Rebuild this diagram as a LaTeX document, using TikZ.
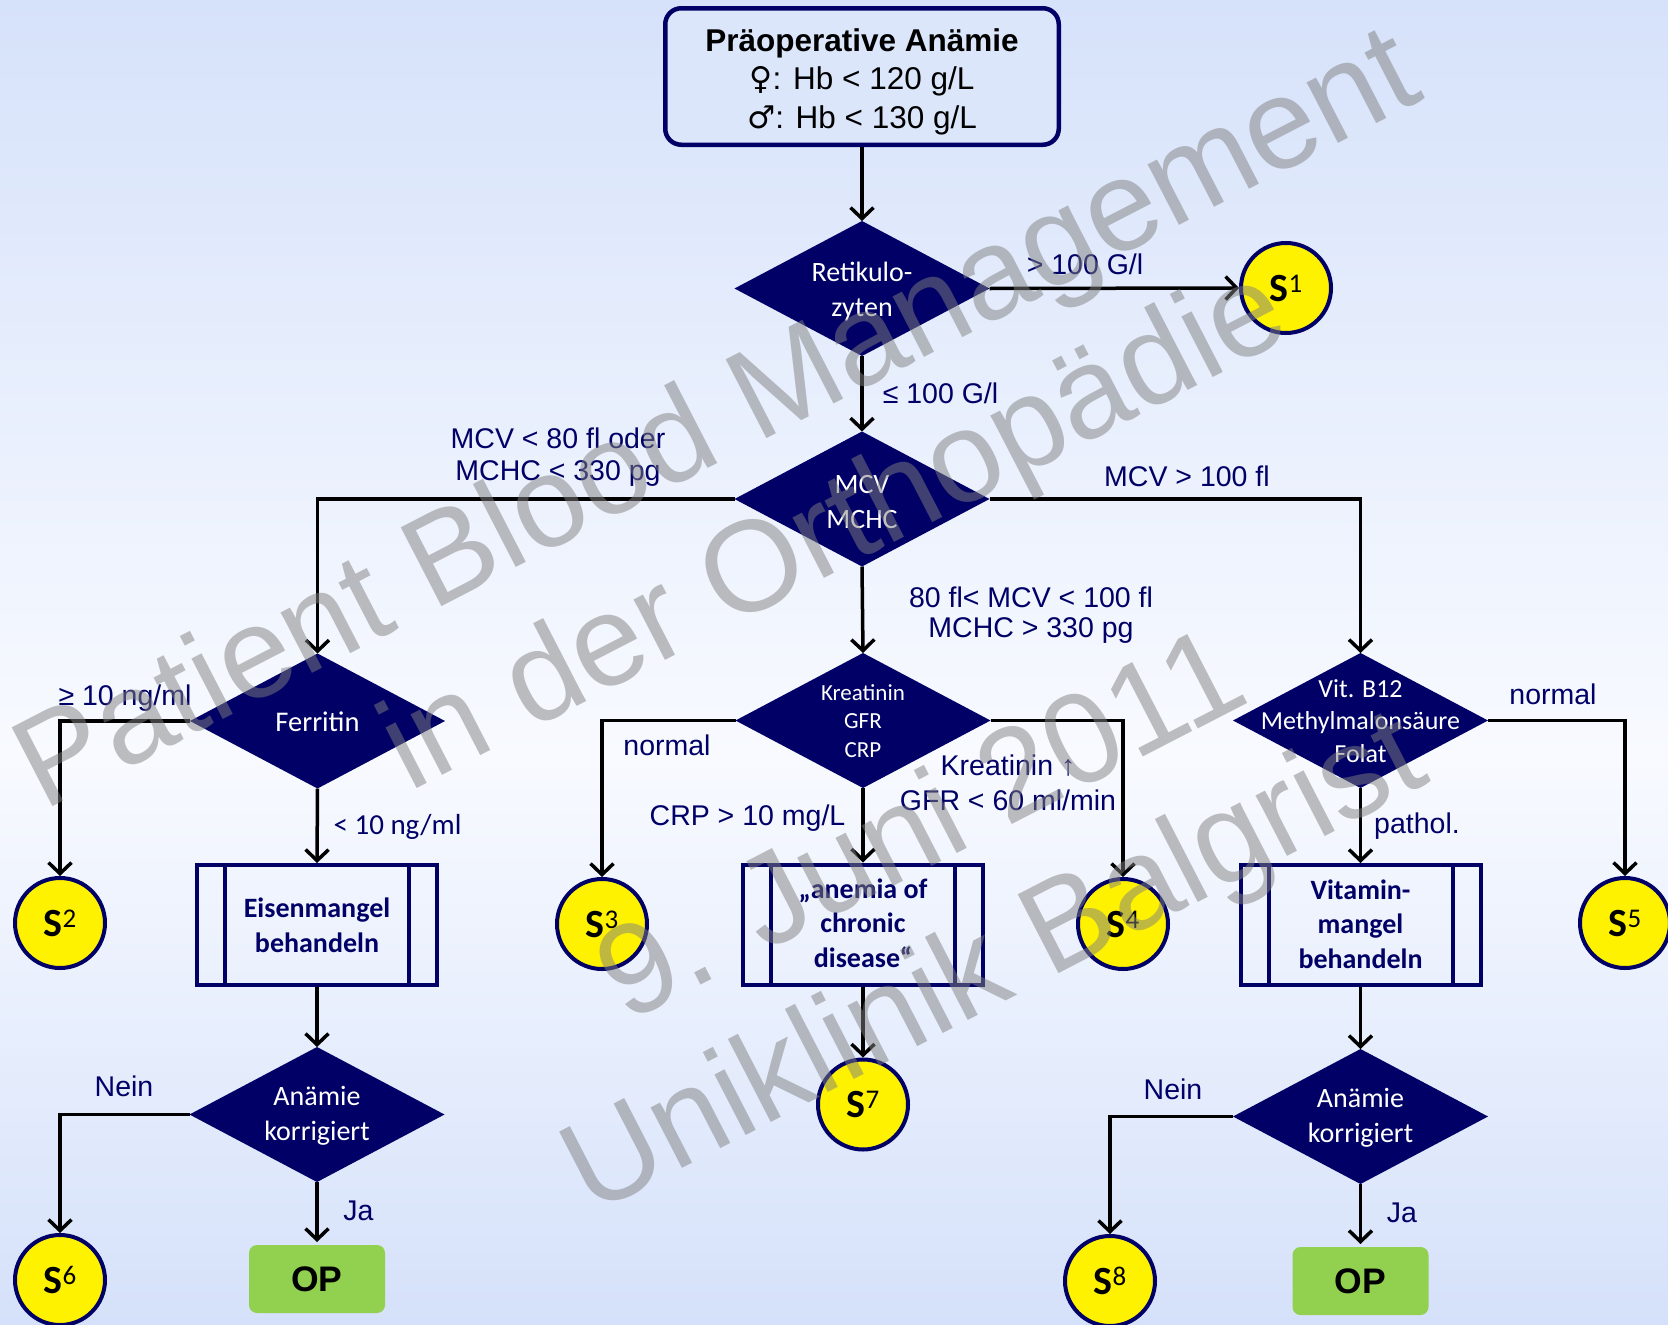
\documentclass[tikz,border=0pt]{standalone}
\usepackage{fontspec}
\setmainfont{Liberation Sans}
\newfontfamily\carl{Carlito}
\newfontfamily\dvs{DejaVu Sans}
\usetikzlibrary{shapes.geometric,arrows.meta}
\definecolor{dnavy}{HTML}{000066}
\definecolor{bgtop}{HTML}{D6E2FA}
\definecolor{bgmid}{HTML}{F8FAFF}
\definecolor{bgbot}{HTML}{D5E1FA}
\definecolor{titlefill}{HTML}{DCE6FA}
\definecolor{opgreen}{HTML}{92D050}
\pgfdeclareverticalshading{bgsh}{100bp}{color(0bp)=(bgbot); color(25bp)=(bgbot); color(46.5bp)=(bgmid); color(75bp)=(bgtop); color(100bp)=(bgtop)}
\newcommand\ml[1]{\begin{tabular}[b]{@{}c@{}}#1\end{tabular}}
\newcommand\fs[2]{\fontsize{#1}{#2}\selectfont}
\newcommand\sS[1]{{\carl\bfseries\fs{40}{40}S}{\carl\fs{27}{27}\raisebox{9pt}{#1}}}
\tikzset{
 arr/.style={line width=3.5pt, draw=black, -{Straight Barb[length=11pt,width=23pt]}},
 dia/.style={diamond, fill=dnavy, minimum width=255pt, minimum height=135pt, inner sep=0pt, outer sep=0pt},
 dtxt/.style={text=white, anchor=base, inner sep=0pt},
 lbl/.style={text=dnavy, anchor=base, inner sep=0pt, font=\fs{28.5}{32}},
 sbox/.style={draw=dnavy, line width=4pt, minimum width=240pt, minimum height=120pt, inner sep=0pt, outer sep=2pt},
 btxt/.style={text=dnavy, anchor=base, inner sep=0pt, font=\carl\bfseries\fs{28}{34.5}},
 snode/.style={circle, draw=dnavy, line width=4pt, fill=yellow, minimum size=90pt, inner sep=0pt, outer sep=2pt},
 opbox/.style={fill=opgreen, rounded corners=8pt, minimum width=136pt, minimum height=68pt, inner sep=0pt, outer sep=3pt, font=\bfseries\fs{35.5}{36}},
 titlebox/.style={draw=dnavy, line width=4.5pt, fill=titlefill, rounded corners=16pt, minimum width=393.5pt, minimum height=136.5pt, outer sep=2.25pt},
 wm/.style={text=black!50, opacity=0.5, anchor=base, rotate=27.3, inner sep=0pt, font=\fs{129}{130}},
 inner/.style={draw=dnavy, line width=4pt}
}
\begin{document}
\begin{tikzpicture}[x=1pt,y=-1pt]
\useasboundingbox (0,0) rectangle (1668,1325);
\shade[shading=bgsh] (0,0) rectangle (1668,1325);

% shapes
\node[titlebox] (title) at (862,76.5) {};
\node[dia] (ret) at (862,288.5) {};
\node[dia] (mcv) at (862,499) {};
\node[dia] (fer) at (317.5,721) {};
\node[dia] (kre) at (863,720.5) {};
\node[dia] (vit) at (1360.5,720.5) {};
\node[dia] (an1) at (317,1114.5) {};
\node[dia] (an2) at (1360.5,1116.5) {};
\node[sbox] (eis) at (317,925) {};
\node[sbox] (acd) at (863,924.5) {};
\node[sbox] (vbx) at (1360.5,925) {};
\foreach \b in {eis,acd,vbx} {
 \draw[inner] ([xshift=30pt]\b.north west) -- ([xshift=30pt]\b.south west);
 \draw[inner] ([xshift=-30pt]\b.north east) -- ([xshift=-30pt]\b.south east);
}
\node[snode] (s1) at (1286,288) {\sS{1}};
\node[snode] (s2) at (60,923) {\sS{2}};
\node[snode] (s3) at (602,924) {\sS{3}};
\node[snode] (s4) at (1123,924) {\sS{4}};
\node[snode] (s5) at (1625,923) {\sS{5}};
\node[snode] (s6) at (60,1280) {\sS{6}};
\node[snode] (s7) at (863,1104.5) {\sS{7}};
\node[snode] (s8) at (1110,1281) {\sS{8}};
\node[opbox] (op1) at (317,1279) {OP};
\node[opbox] (op2) at (1360.5,1281) {OP};

% connectors
\draw[arr] (title.south) -- (ret.north);
\draw[arr] (ret.east) -- (s1.west);
\draw[arr] (ret.south) -- (mcv.north);
\draw[arr] (mcv.west) -| (fer.north);
\draw[arr] (mcv.east) -| (vit.north);
\draw[arr] (mcv.south) -- (kre.north);
\draw[arr] (fer.west) -| (s2.north);
\draw[arr] (fer.south) -- (eis.north);
\draw[arr] (eis.south) -- (an1.north);
\draw[arr] (an1.west) -| (s6.north);
\draw[arr] (an1.south) -- (op1.north);
\draw[arr] (kre.west) -| (s3.north);
\draw[arr] (kre.east) -| (s4.north);
\draw[arr] (kre.south) -- (acd.north);
\draw[arr] (acd.south) -- (s7.north);
\draw[arr] (vit.east) -| (s5.north);
\draw[arr] (vit.south) -- (vbx.north);
\draw[arr] (vbx.south) -- (an2.north);
\draw[arr] (an2.west) -| (s8.north);
\draw[arr] (an2.south) -- (op2.north);

% title text
\node[anchor=base, inner sep=0pt, font=\fs{31.5}{38.5}] (titlet) at (862,128)
 {\ml{\textbf{Präoperative Anämie}\\{\dvs ♀}: Hb < 120 g/L\\{\dvs ♂}: Hb < 130 g/L}};

% diamond texts
\node[dtxt, font=\carl\fs{28}{35}] (rett) at (862,316) {\ml{Retikulo-\\zyten}};
\node[dtxt, font=\carl\fs{28}{35}] (mcvt) at (862,528) {\ml{MCV\\MCHC}};
\node[dtxt, font=\carl\fs{28.5}{35}] (fert) at (317.5,731) {Ferritin};
\node[dtxt, font=\carl\fs{23}{28.5}] (kret) at (863,757) {\ml{Kreatinin\\GFR\\CRP}};
\node[dtxt, font=\carl\fs{26}{32.5}] (vitt) at (1360.5,762) {\ml{Vit. B12\\Methylmalonsäure\\Folat}};
\node[dtxt, font=\carl\fs{28}{35}] (an1t) at (317,1140) {\ml{Anämie\\korrigiert}};
\node[dtxt, font=\carl\fs{28}{35}] (an2t) at (1360.5,1142) {\ml{Anämie\\korrigiert}};

% box texts
\node[btxt] (eist) at (317,952) {\ml{Eisenmangel\\behandeln}};
\node[btxt] (acdt) at (863,967) {\ml{„anemia of\\chronic\\disease“}};
\node[btxt] (vbxt) at (1360.5,968) {\ml{Vitamin-\\mangel\\behandeln}};

% edge labels
\node[lbl] (l1) at (1085,274) {> 100 G/l};
\node[lbl] (l2) at (940.5,403) {≤ 100 G/l};
\node[lbl] (l3) at (558,480) {\ml{MCV < 80 fl oder\\MCHC < 330 pg}};
\node[lbl] (l4) at (1187,486) {MCV > 100 fl};
\node[lbl, font=\fs{28.5}{30}] (l5) at (1031,637) {\ml{80 fl< MCV < 100 fl\\MCHC > 330 pg}};
\node[lbl] (l6) at (125,705) {≥ 10 ng/ml};
\node[lbl, font=\carl\fs{29}{32}] (l7) at (397.5,834) {< 10 ng/ml};
\node[lbl] (l8) at (667,755) {normal};
\node[lbl] (l9) at (747.5,825) {CRP > 10 mg/L};
\node[lbl, font=\fs{28.5}{35}] (l10) at (1008,810) {\ml{Kreatinin ↑\\GFR < 60 ml/min}};
\node[lbl] (l11) at (1553,704) {normal};
\node[lbl] (l12) at (1417,833) {pathol.};
\node[lbl] (l13) at (124,1096) {Nein};
\node[lbl] (l14) at (358.5,1220) {Ja};
\node[lbl] (l15) at (1173,1099) {Nein};
\node[lbl] (l16) at (1402,1222) {Ja};

% watermark
\node[wm] (wm1) at (735,455) {Patient Blood Management};
\node[wm] (wm2) at (852,564) {in der Orthopädie};
\node[wm] (wm3) at (940,862) {9. Juni 2011};
\node[wm] (wm4) at (1012,998) {Uniklinik Balgrist};
\end{tikzpicture}
\end{document}
